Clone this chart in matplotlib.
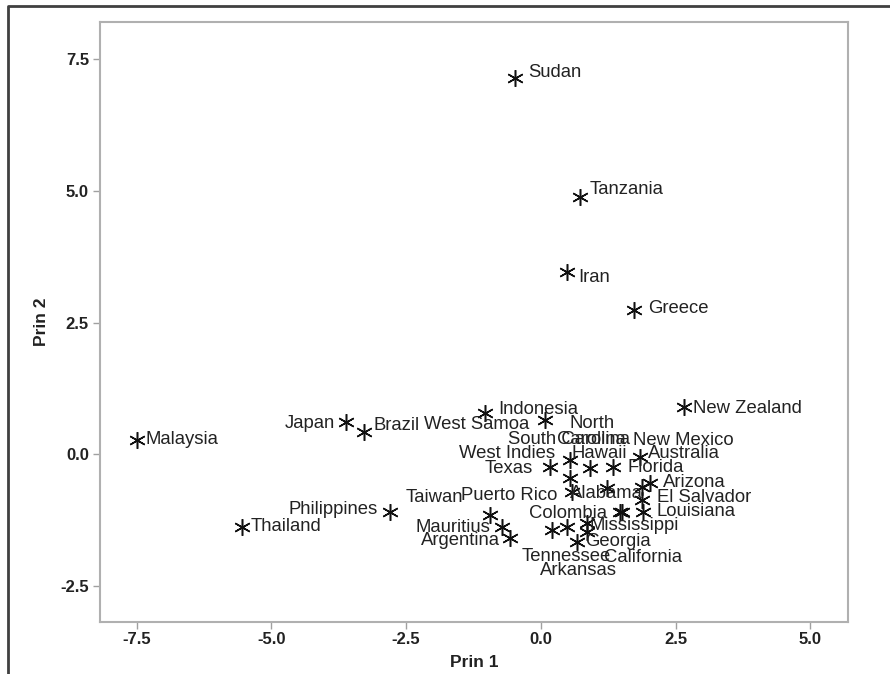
import matplotlib
matplotlib.use('Agg')
import matplotlib.pyplot as plt
from matplotlib.lines import Line2D

# principal component scores
names = ['Sudan', 'Tanzania', 'Iran', 'Greece', 'New Zealand', 'Malaysia',
         'Japan', 'Brazil', 'Indonesia', 'West Samoa', 'Thailand', 'Philippines',
         'Taiwan', 'Mauritius', 'Argentina', 'Texas', 'South Carolina', 'North Carolina',
         'West Indies', 'Florida', 'Australia', 'New Mexico', 'Arizona', 'Hawaii',
         'Puerto Rico', 'El Salvador', 'Alabama', 'Colombia', 'Louisiana',
         'Mississippi', 'Tennessee', 'California', 'Arkansas', 'Georgia']
prin1 = [-0.48, 0.72, 0.48, 1.73, 2.65, -7.50,
         -3.62, -3.28, -1.04, 0.07, -5.55, -2.80,
         -0.95, -0.72, -0.58, 0.17, 0.54, 0.91,
         0.54, 1.34, 1.84, 1.87, 2.02, 1.22,
         0.58, 1.87, 1.50, 1.47, 1.89,
         0.85, 0.20, 0.85, 0.48, 0.67]
prin2 = [7.15, 4.89, 3.46, 2.74, 0.89, 0.27,
         0.61, 0.42, 0.78, 0.65, -1.39, -1.10,
         -1.16, -1.39, -1.60, -0.25, -0.11, -0.27,
         -0.46, -0.25, -0.06, -0.63, -0.55, -0.65,
         -0.72, -0.87, -1.10, -1.10, -1.10,
         -1.31, -1.44, -1.48, -1.39, -1.67]
xticks = [-7.5, -5.0, -2.5, 0.0, 2.5, 5.0]
yticks = [-2.5, 0.0, 2.5, 5.0, 7.5]

# label placement (pixel offsets from the marker, horizontal alignment)
place = {
    'Sudan': (13, -5, 'left'), 'Tanzania': (10, -7, 'left'), 'Iran': (12, 5, 'left'),
    'Greece': (14, -1, 'left'), 'New Zealand': (9, 1, 'left'), 'Malaysia': (9, 0, 'left'),
    'Japan': (-11, 2, 'right'), 'Brazil': (9, -7, 'left'), 'Indonesia': (13, -4, 'left'),
    'West Samoa': (-15, 5, 'right'), 'Thailand': (9, -1, 'left'),
    'Philippines': (-12, -3, 'right'), 'Taiwan': (-27, -18, 'right'),
    'Mauritius': (-12, 0, 'right'), 'Argentina': (-10, 2, 'right'),
    'Texas': (-17, 1, 'right'), 'South Carolina': (-1, -20, 'center'),
    'North Carolina': (2, -37, 'center'), 'West Indies': (-15, -25, 'right'),
    'Florida': (14, 0, 'left'), 'Australia': (8, -4, 'left'),
    'New Mexico': (-9, -47, 'left'), 'Arizona': (13, -1, 'left'),
    'Hawaii': (-7, -35, 'center'), 'Puerto Rico': (-15, 3, 'right'),
    'El Salvador': (15, -2, 'left'), 'Alabama': (-15, -18, 'center'),
    'Colombia': (-13, 1, 'right'), 'Louisiana': (14, 0, 'left'),
    'Mississippi': (3, 2, 'left'), 'Tennessee': (15, 27, 'center'),
    'California': (56, 25, 'center'), 'Arkansas': (12, 43, 'center'),
    'Georgia': (8, 0, 'left'),
}

plt.rcParams['font.family'] = ['Liberation Sans', 'DejaVu Sans']

fig = plt.figure(figsize=(8.9, 6.74), dpi=100)
ax = fig.add_axes([100 / 890, 1 - 622 / 674, 748 / 890, 600 / 674])

ax.plot(prin1, prin2, linestyle='none', marker=(6, 2, 0), markersize=12,
        markeredgewidth=1.1, color='#111111')

px = 0.72  # one pixel in points at 100 dpi
for name, x, y in zip(names, prin1, prin2):
    dx, dy, ha = place[name]
    text = 'North\nCarolina' if name == 'North Carolina' else name
    ax.annotate(text, (x, y), xytext=(dx * px, -dy * px), textcoords='offset points',
                ha=ha, va='center', fontsize=13.3, color='#222222', linespacing=0.95)

ax.set_xlim(-8.18, 5.70)
ax.set_ylim(-3.19, 8.21)
ax.set_xticks(xticks)
ax.set_yticks(yticks)
ax.set_xticklabels([f'{t:.1f}' for t in xticks])
ax.set_yticklabels([f'{t:.1f}' for t in yticks])
for lab in ax.get_xticklabels() + ax.get_yticklabels():
    lab.set_fontweight('bold')
    lab.set_fontsize(12)
    lab.set_color('#222222')
ax.tick_params(length=5, width=1, color='#a0a0a0', pad=3)
ax.tick_params(axis='x', pad=2)
for s in ax.spines.values():
    s.set_color('#b0b0b0')
    s.set_linewidth(1.5)

ax.set_xlabel('Prin 1', fontsize=12.5, fontweight='bold', color='#222222', labelpad=6)
ax.set_ylabel('Prin 2', fontsize=12.5, fontweight='bold', color='#222222', labelpad=8)

# outer frame (top and left edges only)
fig.add_artist(Line2D([8 / 890, 8 / 890, 1.0], [0.0, 1 - 6 / 674, 1 - 6 / 674],
                      transform=fig.transFigure, color='#404040', linewidth=2))

fig.savefig('out.png', dpi=100)
